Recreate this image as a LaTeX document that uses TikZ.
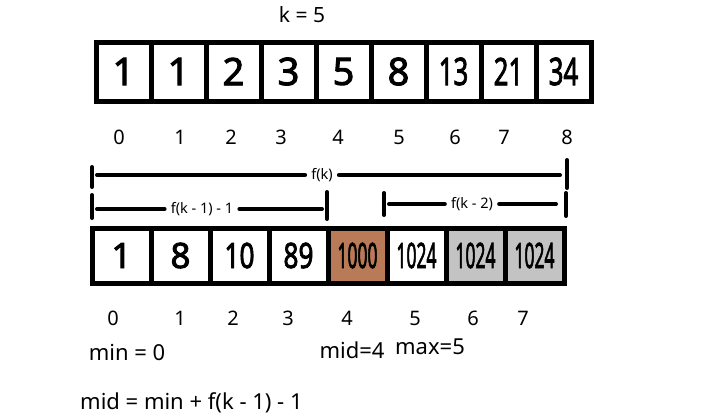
\documentclass[tikz,border=0pt]{standalone}
\usepackage{fontspec}
\setmainfont{Noto Sans}
\newfontfamily\cellfont[FakeBold=2.5]{Noto Sans}
\usetikzlibrary{calc}
\definecolor{brownfill}{HTML}{B97A57}
\definecolor{greyfill}{HTML}{C3C3C3}
\tikzset{
  cell/.style={draw, line width=5pt, inner sep=0pt, minimum width=55pt, minimum height=59pt, font=\cellfont\fontsize{38}{38}\selectfont},
  lowcell/.style={cell, minimum width=59pt, minimum height=55pt, font=\cellfont\fontsize{35}{35}\selectfont},
  idx/.style={font=\fontsize{20}{20}\selectfont},
  txt/.style={font=\fontsize{22}{22}\selectfont},
  bar/.style={line width=4pt, line cap=round},
  barlabel/.style={font=\fontsize{14.5}{14.5}\selectfont, inner sep=6pt},
}
\newcommand{\narrow}[2][0.72]{\scalebox{#1}[1]{#2}}

\begin{document}
\begin{tikzpicture}[x=1pt, y=-1pt]
		%%%%% START %%%%%
		\useasboundingbox (0, 0) rectangle (712, 416);
		
		\node[idx, font=\fontsize{21}{21}\selectfont] (k) at (302, 15) {k = 5};
		
		% top array
		\foreach \v [count=\i from 0] in {1, 1, 2, 3, 5, 8, \narrow[0.68]{13}, \narrow[0.68]{21}, \narrow[0.68]{34}}
			\node[cell] (t\i) at (123.5+55*\i, 71.5) {\v};
		\foreach \x/\v [count=\i from 0] in {119/0, 180/1, 231/2, 281/3, 338/4, 399/5, 455/6, 504/7, 567/8}
			\node[idx] (ti\i) at (\x, 137) {\v};
		
		% f(k)
		\draw[bar] (92, 167) -- (92, 187);
		\draw[bar] (567, 160) -- (567, 188);
		\node[barlabel] (fk) at (322, 175) {f(k)};
		\coordinate (fkl) at (97, 175);
		\coordinate (fkr) at (560, 175);
		\draw[bar] (fkl) -- (fk);
		\draw[bar] (fk) -- (fkr);
		
		% f(k - 1) - 1
		\draw[bar] (92, 195) -- (92, 218);
		\draw[bar] (327, 192) -- (327, 219);
		\node[barlabel] (fka) at (202, 209) {f(k - 1) - 1};
		\coordinate (fkal) at (97, 209);
		\coordinate (fkar) at (322, 209);
		\draw[bar] (fkal) -- (fka);
		\draw[bar] (fka) -- (fkar);
		
		% f(k - 2)
		\draw[bar] (384, 193) -- (384, 215);
		\draw[bar] (566, 193) -- (566, 216);
		\node[barlabel] (fkb) at (472, 204) {f(k - 2)};
		\coordinate (fkbl) at (389, 204);
		\coordinate (fkbr) at (556, 204);
		\draw[bar] (fkbl) -- (fkb);
		\draw[bar] (fkb) -- (fkbr);
		
		% bottom array
		\node[lowcell] (b0) at (121.5, 255.5) {1};
		\node[lowcell] (b1) at (180.5, 255.5) {8};
		\node[lowcell] (b2) at (239.5, 255.5) {\narrow[0.75]{10}};
		\node[lowcell] (b3) at (298.5, 255.5) {\narrow[0.75]{89}};
		\node[lowcell, fill=brownfill] (b4) at (357.5, 255.5) {\narrow[0.5]{1000}};
		\node[lowcell] (b5) at (416.5, 255.5) {\narrow[0.5]{1024}};
		\node[lowcell, fill=greyfill] (b6) at (475.5, 255.5) {\narrow[0.5]{1024}};
		\node[lowcell, fill=greyfill] (b7) at (534.5, 255.5) {\narrow[0.5]{1024}};
		\foreach \x/\v [count=\i from 0] in {113/0, 180/1, 233/2, 288/3, 347/4, 415/5, 473/6, 523/7}
			\node[idx] (bi\i) at (\x, 318) {\v};
		
		\node[txt] (min) at (127, 352) {min = 0};
		\node[txt] (mid) at (352, 350) {mid=4};
		\node[txt] (max) at (430, 347) {max=5};
		\node[txt, anchor=west, inner sep=0pt] (formula) at (80, 403) {mid = min + f(k - 1) - 1};
		%%%%% END %%%%%
	\end{tikzpicture}
\end{document}
